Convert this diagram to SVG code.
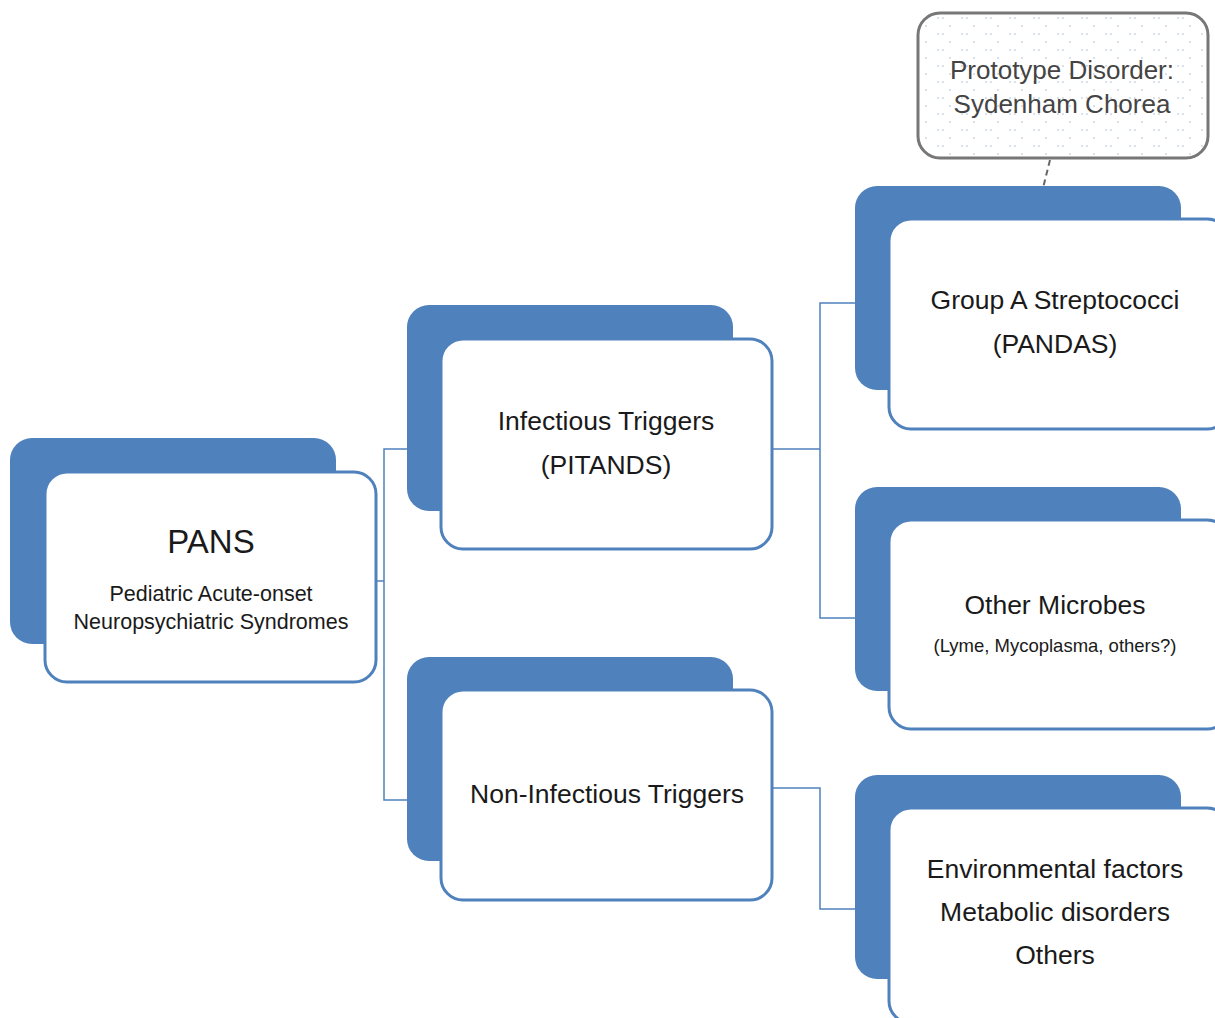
<svg xmlns="http://www.w3.org/2000/svg" width="1215" height="1018" viewBox="0 0 1215 1018">
<style>
.back{fill:#4F81BD;}
.front{fill:#fff;stroke:#4F81BD;stroke-width:3;}
.conn{fill:none;stroke:#4F81BD;stroke-width:1.5;}
text{font-family:"Liberation Sans",Arial,sans-serif;fill:#1a1a1a;text-anchor:middle;}
.t24{font-size:26.5px;}
.t19{font-size:21.5px;}
.t16{font-size:18.5px;}
</style>
<defs>
<pattern id="dots" width="24" height="16" patternUnits="userSpaceOnUse">
<circle cx="2" cy="2" r="0.8" fill="#a9bccf"/>
<circle cx="7" cy="2" r="0.8" fill="#a9bccf"/>
<circle cx="14" cy="10" r="0.8" fill="#a9bccf"/>
</pattern>
</defs>
<rect width="1215" height="1018" fill="#fff"/>
<g id="connectors">
<polyline class="conn" points="376,581 384,581"/>
<polyline class="conn" points="443,449 384,449 384,800 443,800"/>
<polyline class="conn" points="773,449 820,449"/>
<polyline class="conn" points="890,303 820,303 820,618 890,618"/>
<polyline class="conn" points="773,788 820,788 820,909 890,909"/>
<line x1="1050" y1="160" x2="1038" y2="208" stroke="#666" stroke-width="2" stroke-dasharray="6,4"/>
</g>
<g id="pans">
<rect class="back" x="10" y="438" width="326" height="206" rx="22"/>
<rect class="front" x="45" y="472" width="331" height="210" rx="22"/>
<text x="211" y="553" style="font-size:33px">PANS</text>
<text class="t19" x="211" y="601">Pediatric Acute-onset</text>
<text class="t19" x="211" y="629">Neuropsychiatric Syndromes</text>
</g>
<g id="infectious">
<rect class="back" x="407" y="305" width="326" height="206" rx="22"/>
<rect class="front" x="441" y="339" width="331" height="210" rx="22"/>
<text class="t24" x="606" y="430">Infectious Triggers</text>
<text class="t24" x="606" y="474">(PITANDS)</text>
</g>
<g id="noninfectious">
<rect class="back" x="407" y="657" width="326" height="204" rx="22"/>
<rect class="front" x="441" y="690" width="331" height="210" rx="22"/>
<text class="t24" x="607" y="803">Non-Infectious Triggers</text>
</g>
<g id="groupa">
<rect class="back" x="855" y="186" width="326" height="204" rx="22"/>
<rect class="front" x="889" y="219" width="340" height="210" rx="22"/>
<text class="t24" x="1055" y="309">Group A Streptococci</text>
<text class="t24" x="1055" y="353">(PANDAS)</text>
</g>
<g id="othermicrobes">
<rect class="back" x="855" y="487" width="326" height="204" rx="22"/>
<rect class="front" x="889" y="520" width="340" height="209" rx="22"/>
<text class="t24" x="1055" y="614">Other Microbes</text>
<text class="t16" x="1055" y="652">(Lyme, Mycoplasma, others?)</text>
</g>
<g id="environmental">
<rect class="back" x="855" y="775" width="326" height="204" rx="22"/>
<rect class="front" x="889" y="808" width="340" height="215" rx="22"/>
<text class="t24" x="1055" y="878">Environmental factors</text>
<text class="t24" x="1055" y="921">Metabolic disorders</text>
<text class="t24" x="1055" y="964">Others</text>
</g>
<g id="callout">
<rect x="918" y="13" width="290" height="145" rx="22" fill="#fff" stroke="#777" stroke-width="3"/>
<rect x="920" y="15" width="286" height="141" rx="20" fill="url(#dots)"/>
<text x="1062" y="79" style="font-size:26px;fill:#444">Prototype Disorder:</text>
<text x="1062" y="113" style="font-size:26px;fill:#444">Sydenham Chorea</text>
</g>
</svg>
